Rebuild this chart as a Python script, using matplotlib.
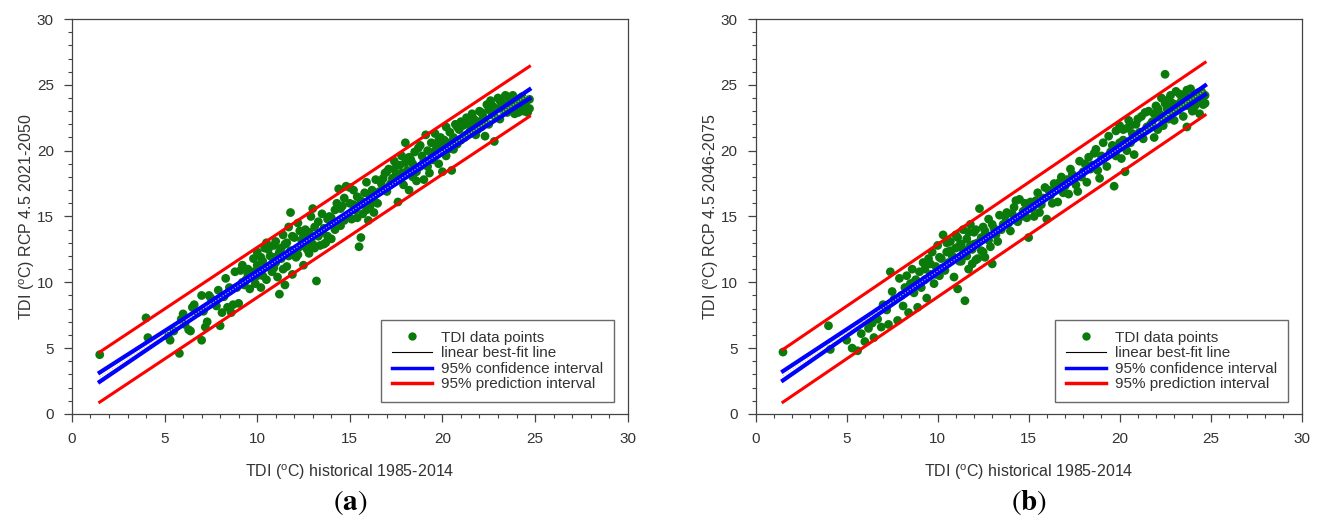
import matplotlib.pyplot as plt
import numpy as np
from matplotlib.lines import Line2D
from matplotlib.ticker import MultipleLocator

plt.rcParams['font.family'] = ['Liberation Sans', 'DejaVu Sans']
plt.rcParams['mathtext.fontset'] = 'custom'
plt.rcParams['mathtext.rm'] = 'Liberation Sans'

# ---- panel (a): historical vs RCP 4.5 2021-2050 ----
a_x = [1.5, 4.0, 4.1, 5.2, 5.3, 5.5, 5.8, 5.9, 6.0, 6.1, 6.3, 6.4, 6.5, 6.6, 6.8, 7.0, 7.0, 7.1,
       7.2, 7.3, 7.4, 7.5, 7.7, 7.8, 7.9, 8.0, 8.1, 8.2, 8.3, 8.4, 8.5, 8.6, 8.7, 8.8, 8.9, 9.0,
       9.1, 9.2, 9.3, 9.4, 9.5, 9.6, 9.7, 9.8, 9.9, 10.0, 10.0, 10.1, 10.2, 10.3, 10.4, 10.5,
       10.5, 10.6, 10.7, 10.8, 10.9, 11.0, 11.0, 11.1, 11.2, 11.2, 11.3, 11.4, 11.5, 11.5, 11.6,
       11.7, 11.8, 11.8, 11.9, 12.0, 12.1, 12.2, 12.3, 12.4, 12.5, 12.6, 12.7, 12.8, 12.9, 13.0,
       13.0, 13.1, 13.2, 13.3, 13.4, 13.5, 13.6, 13.7, 13.8, 13.9, 14.0, 14.1, 14.2, 14.3, 14.4,
       14.5, 14.6, 14.7, 14.8, 14.9, 15.0, 15.1, 15.2, 15.3, 15.4, 15.5, 15.6, 15.7, 15.8, 15.9,
       16.0, 16.1, 16.2, 16.3, 16.4, 16.5, 16.7, 16.9, 17.0, 17.1, 17.3, 17.4, 17.5, 17.6, 17.7,
       17.8, 17.9, 18.0, 18.1, 18.2, 18.3, 18.4, 18.5, 18.6, 18.7, 18.8, 18.9, 19.0, 19.1, 19.2,
       19.3, 19.4, 19.5, 19.6, 19.7, 19.8, 19.9, 20.0, 20.1, 20.2, 20.3, 20.4, 20.5, 20.6, 20.7,
       20.8, 20.9, 21.0, 21.2, 21.3, 21.5, 21.6, 21.8, 21.9, 22.0, 22.1, 22.2, 22.3, 22.4, 22.5,
       22.6, 22.7, 22.8, 22.9, 23.0, 23.1, 23.2, 23.3, 23.4, 23.5, 23.6, 23.7, 23.8, 23.9, 24.0,
       24.1, 24.2, 24.3, 24.4, 24.5, 24.6, 24.7]
a_y = [4.5, 7.3, 5.8, 5.9, 5.6, 6.3, 4.6, 7.2, 7.6, 6.8, 6.4, 6.3, 8.1, 8.3, 7.7, 5.6, 9.0, 7.8,
       6.6, 7.0, 9.0, 8.8, 8.6, 8.2, 9.4, 6.7, 7.7, 8.9, 10.3, 8.1, 9.6, 7.7, 8.3, 10.8, 9.6, 8.4,
       10.9, 11.3, 9.8, 10.2, 11.0, 9.5, 10.4, 11.8, 9.9, 10.5, 12.3, 11.0, 9.6, 11.6, 12.6, 10.2,
       13.0, 11.2, 12.0, 10.8, 12.8, 11.5, 13.1, 10.4, 9.1, 12.3, 11.8, 13.6, 9.8, 12.9, 11.2,
       14.2, 15.3, 12.4, 10.6, 13.4, 11.9, 14.5, 12.7, 13.2, 11.3, 14.0, 12.5, 13.8, 15.0, 12.9,
       15.6, 14.2, 10.1, 13.5, 12.8, 15.2, 14.1, 13.0, 14.8, 15.0, 13.3, 14.6, 15.5, 16.0, 17.1,
       14.3, 15.8, 16.4, 17.3, 15.0, 16.0, 14.8, 17.0, 15.5, 16.5, 12.7, 13.4, 15.2, 16.8, 17.6,
       14.7, 15.8, 17.0, 16.2, 17.8, 16.0, 17.5, 18.3, 16.9, 18.6, 17.9, 19.2, 18.2, 16.1, 18.9,
       19.6, 17.4, 20.6, 18.5, 17.0, 19.3, 18.0, 19.9, 17.7, 20.2, 18.8, 19.6, 17.8, 21.2, 20.0,
       18.3, 20.6, 19.3, 21.3, 20.4, 19.0, 21.0, 18.4, 20.8, 21.8, 20.1, 21.4, 18.5, 21.0, 22.0,
       20.5, 21.6, 22.2, 21.0, 22.5, 21.5, 22.8, 21.2, 22.2, 23.0, 21.8, 22.6, 21.1, 23.5, 22.0,
       23.8, 22.7, 20.7, 23.2, 24.0, 22.4, 23.6, 23.0, 24.2, 22.9, 23.6, 23.1, 24.2, 23.3, 23.8,
       22.9, 24.0, 23.4, 23.0, 23.7, 22.9, 23.2]
# more points in the crowded parts of panel (a)
a_x_more = [9.2, 9.5, 9.8, 10.0, 10.2, 10.3, 10.6, 10.8, 10.9, 11.1, 11.3, 11.4, 11.6, 11.7,
            11.9, 12.0, 12.2, 12.3, 12.5, 12.6, 12.8, 12.9, 13.1, 13.3, 13.5, 13.6, 13.8, 14.0,
            14.2, 14.5, 14.7, 15.0, 15.2, 15.4, 15.6, 15.9, 16.1, 16.3, 16.6, 16.8, 17.0, 17.2,
            17.4, 17.6, 17.8, 18.0, 18.2, 18.4, 18.6, 18.8, 19.0, 19.2, 19.4, 19.6, 19.8, 20.0,
            20.2, 20.4, 20.6, 20.8, 21.0, 21.1, 21.3, 21.4, 21.6, 21.7, 21.9, 22.1, 22.3, 22.5,
            22.7, 22.9, 23.1, 23.3, 23.5, 23.7, 23.9, 24.1, 24.3, 24.5, 24.7, 24.4, 24.6]
a_y_more = [10.0, 10.6, 10.8, 11.3, 11.9, 10.5, 12.5, 11.9, 11.1, 12.0, 12.6, 11.0, 13.0, 12.0,
            13.5, 12.4, 12.1, 13.9, 13.5, 12.9, 12.2, 13.3, 12.6, 14.6, 13.8, 12.9, 13.5, 14.9,
            14.0, 15.6, 14.7, 17.2, 15.9, 14.9, 16.2, 15.5, 16.6, 15.3, 16.9, 17.9, 18.4, 17.5,
            18.6, 18.0, 18.3, 19.1, 19.5, 19.0, 18.4, 20.4, 19.2, 18.8, 19.8, 20.0, 20.8, 20.3,
            19.6, 20.6, 20.1, 21.8, 20.8, 21.9, 21.2, 22.0, 21.9, 22.4, 21.6, 22.9, 22.3, 23.1,
            23.4, 22.5, 23.8, 23.5, 24.1, 23.9, 22.8, 23.5, 24.1, 23.3, 23.9, 23.8, 23.1]

a_line_x = [1.5, 24.7]
a_fit = [2.8, 24.3]
a_pred_lo = [0.9, 22.6]
a_pred_hi = [4.7, 26.4]
a_ci_x = [1.5, 6.0, 10.0, 13.0, 16.0, 20.0, 24.7]
a_ci_lo = [2.45, 6.75, 10.52, 13.34, 16.10, 19.75, 23.95]
a_ci_hi = [3.15, 7.20, 10.85, 13.58, 16.38, 20.15, 24.65]

# ---- panel (b): historical vs RCP 4.5 2046-2075 ----
b_x = [1.5, 4.0, 4.1, 5.0, 5.3, 5.6, 5.8, 6.0, 6.2, 6.4, 6.5, 6.7, 6.9, 7.0, 7.2, 7.3, 7.4, 7.5,
       7.6, 7.8, 7.9, 8.0, 8.1, 8.2, 8.3, 8.4, 8.5, 8.6, 8.7, 8.8, 8.9, 9.0, 9.1, 9.2, 9.3, 9.4,
       9.5, 9.6, 9.7, 9.8, 9.9, 10.0, 10.1, 10.2, 10.3, 10.4, 10.5, 10.6, 10.7, 10.8, 10.9, 11.0,
       11.1, 11.1, 11.2, 11.3, 11.4, 11.5, 11.5, 11.6, 11.7, 11.8, 11.9, 12.0, 12.1, 12.2, 12.3,
       12.4, 12.5, 12.6, 12.7, 12.8, 12.9, 13.0, 13.1, 13.3, 13.4, 13.6, 13.8, 14.0, 14.2, 14.4,
       14.5, 14.7, 14.9, 15.0, 15.1, 15.3, 15.5, 15.7, 15.9, 16.0, 16.2, 16.4, 16.6, 16.8, 17.0,
       17.2, 17.3, 17.5, 17.7, 17.8, 18.0, 18.2, 18.3, 18.5, 18.7, 18.9, 19.0, 19.1, 19.3, 19.4,
       19.5, 19.7, 19.8, 19.9, 20.0, 20.1, 20.2, 20.3, 20.4, 20.5, 20.6, 20.7, 20.8, 20.9, 21.0,
       21.2, 21.3, 21.5, 21.6, 21.8, 21.9, 22.0, 22.1, 22.2, 22.3, 22.4, 22.5, 22.6, 22.7, 22.8,
       22.9, 23.0, 23.1, 23.2, 23.4, 23.5, 23.6, 23.7, 23.8, 23.9, 24.0, 24.1, 24.2, 24.3, 24.4,
       24.5, 24.6, 24.7]
b_y = [4.7, 6.7, 4.9, 5.6, 5.0, 4.8, 6.1, 5.5, 6.5, 6.9, 5.8, 7.2, 6.6, 8.3, 7.9, 6.8, 10.8, 9.3,
       8.7, 7.1, 10.3, 9.0, 8.2, 9.6, 10.5, 7.7, 9.9, 11.0, 9.2, 10.2, 8.1, 10.8, 9.6, 11.5, 10.2,
       8.8, 11.8, 10.6, 12.3, 9.9, 11.2, 12.8, 10.5, 11.8, 13.6, 10.9, 12.3, 11.5, 13.1, 12.0,
       10.4, 12.6, 9.5, 13.4, 11.6, 12.9, 14.0, 8.6, 12.2, 13.3, 11.0, 14.4, 12.5, 13.8, 11.7,
       13.0, 15.6, 12.4, 14.2, 11.9, 13.5, 14.8, 12.7, 11.4, 14.1, 13.1, 15.1, 14.4, 15.3, 13.9,
       15.7, 14.6, 16.3, 15.4, 14.9, 13.4, 16.1, 15.0, 16.8, 15.9, 17.2, 14.8, 16.6, 17.5, 16.1,
       18.0, 17.3, 16.7, 18.6, 17.8, 16.9, 19.2, 18.4, 17.6, 19.5, 18.9, 20.1, 17.9, 19.6, 20.6,
       18.8, 21.1, 19.9, 17.3, 21.5, 20.3, 21.9, 19.4, 20.8, 18.4, 21.7, 22.3, 20.6, 21.3, 19.7,
       22.0, 21.2, 22.6, 20.9, 21.8, 23.0, 22.2, 21.0, 23.4, 21.6, 22.8, 24.0, 21.9, 25.8, 23.2,
       22.4, 24.2, 23.6, 22.3, 24.5, 23.1, 23.8, 22.6, 24.3, 21.8, 23.4, 24.7, 23.0, 24.1, 23.5,
       24.4, 22.8, 23.9, 23.5, 24.2]
# more points in the crowded parts of panel (b)
b_x_more = [8.4, 8.7, 9.0, 9.3, 9.6, 9.9, 10.1, 10.3, 10.5, 10.7, 10.9, 11.0, 11.2, 11.3, 11.4,
            11.6, 11.7, 11.8, 11.9, 12.0, 12.1, 12.2, 12.4, 12.5, 12.6, 12.8, 13.0, 13.2, 13.5,
            13.7, 13.9, 14.1, 14.3, 14.6, 14.8, 15.2, 15.4, 15.6, 15.8, 16.1, 16.3, 16.5, 16.7,
            16.9, 17.1, 17.4, 17.6, 17.9, 18.1, 18.4, 18.6, 18.8, 19.2, 19.6, 19.8, 20.0, 20.2,
            20.4, 20.6, 20.8, 21.0, 21.1, 21.4, 21.7, 21.9, 22.1, 22.3, 22.5, 22.7, 22.9, 23.1,
            23.3, 23.5, 23.7, 23.9, 24.1, 24.3, 24.5, 24.7, 24.6]
b_y_more = [9.4, 10.0, 9.9, 11.0, 11.4, 10.6, 11.9, 11.1, 13.0, 12.4, 11.8, 13.6, 12.8, 11.6, 12.5,
            12.0, 13.8, 12.8, 11.4, 12.9, 14.0, 11.8, 13.4, 12.3, 13.9, 13.2, 14.4, 13.6, 14.0,
            15.0, 14.5, 15.2, 16.2, 15.0, 16.0, 15.6, 16.2, 15.3, 16.4, 17.0, 16.0, 17.3, 17.6,
            16.8, 17.8, 18.2, 17.4, 18.0, 19.0, 18.6, 19.8, 18.5, 19.5, 20.4, 19.6, 20.6, 21.6,
            20.0, 21.9, 21.0, 22.4, 21.4, 22.9, 22.0, 22.8, 23.2, 22.4, 23.6, 23.9, 22.9, 23.5,
            24.3, 23.4, 24.6, 23.8, 23.3, 24.0, 24.5, 23.6, 24.3]

b_line_x = [1.5, 24.7]
b_fit = [2.9, 24.6]
b_pred_lo = [0.9, 22.7]
b_pred_hi = [4.9, 26.7]
b_ci_x = [1.5, 6.0, 10.0, 13.0, 16.0, 20.0, 24.7]
b_ci_lo = [2.55, 6.87, 10.68, 13.53, 16.32, 20.00, 24.25]
b_ci_hi = [3.25, 7.33, 11.02, 13.77, 16.60, 20.40, 24.95]

ylabels = [r'TDI ($^\mathrm{o}$C) RCP 4.5 2021-2050', r'TDI ($^\mathrm{o}$C) RCP 4.5 2046-2075']
captions = ['a', 'b']

green = '#0a7a0a'
frame = '#444444'

fig = plt.figure(figsize=(13.2, 5.28), dpi=100)
ax_a = fig.add_axes([0.0545, 0.216, 0.421, 0.748])
ax_b = fig.add_axes([0.5725, 0.216, 0.4135, 0.748])

panels = [
    (ax_a, a_x + a_x_more, a_y + a_y_more, a_line_x, a_fit, a_pred_lo, a_pred_hi,
     a_ci_x, a_ci_lo, a_ci_hi),
    (ax_b, b_x + b_x_more, b_y + b_y_more, b_line_x, b_fit, b_pred_lo, b_pred_hi,
     b_ci_x, b_ci_lo, b_ci_hi),
]

for i, (ax, px, py, lx, fit, plo, phi, cx, clo, chi) in enumerate(panels):
    ax.scatter(px, py, s=40, color=green, edgecolors='none', zorder=2)
    ax.plot(lx, plo, color='red', lw=2.2, zorder=3)
    ax.plot(lx, phi, color='red', lw=2.2, zorder=3)
    ax.plot(cx, clo, color='blue', lw=3, zorder=4)
    ax.plot(cx, chi, color='blue', lw=3, zorder=4)
    ax.plot(lx, fit, color='#c8c8c8', lw=0.8, ls=':', zorder=5)

    ax.set_xlim(0, 30)
    ax.set_ylim(0, 30)
    ax.xaxis.set_major_locator(MultipleLocator(5))
    ax.yaxis.set_major_locator(MultipleLocator(5))
    ax.xaxis.set_minor_locator(MultipleLocator(1))
    ax.yaxis.set_minor_locator(MultipleLocator(1))
    ax.tick_params(which='major', direction='out', length=6, width=0.9, color=frame,
                   labelsize=11, labelcolor='#333333', pad=7)
    ax.tick_params(which='minor', direction='out', length=3, width=0.8, color=frame)
    for sp in ax.spines.values():
        sp.set_color(frame)
        sp.set_linewidth(0.9)

    ax.set_xlabel(r'TDI ($^\mathrm{o}$C) historical 1985-2014', fontsize=11.5,
                  color='#333333', labelpad=12)
    ax.set_ylabel(ylabels[i], fontsize=11.5, color='#333333', labelpad=0)

    handles = [
        Line2D([], [], ls='none', marker='o', ms=6, color=green, mec='none'),
        Line2D([], [], color='black', lw=0.8),
        Line2D([], [], color='blue', lw=2.5),
        Line2D([], [], color='red', lw=2.5),
    ]
    labels = ['TDI data points', 'linear best-fit line',
              '95% confidence interval', '95% prediction interval']
    leg = ax.legend(handles, labels, loc='lower right', bbox_to_anchor=(0.975, 0.03),
                    fontsize=11, frameon=True, fancybox=False, edgecolor=frame,
                    handlelength=2.6, handletextpad=0.6, labelspacing=0.1,
                    borderpad=0.7, borderaxespad=0)
    leg.get_frame().set_linewidth(1.0)
    for t in leg.get_texts():
        t.set_color('#333333')

    pos = ax.get_position()
    fig.text((pos.x0 + pos.x1) / 2, 0.048, r'$(\mathbf{' + captions[i] + r'})$',
             ha='center', va='center', fontsize=21, math_fontfamily='stix')

fig.savefig('out.png', dpi=100)
